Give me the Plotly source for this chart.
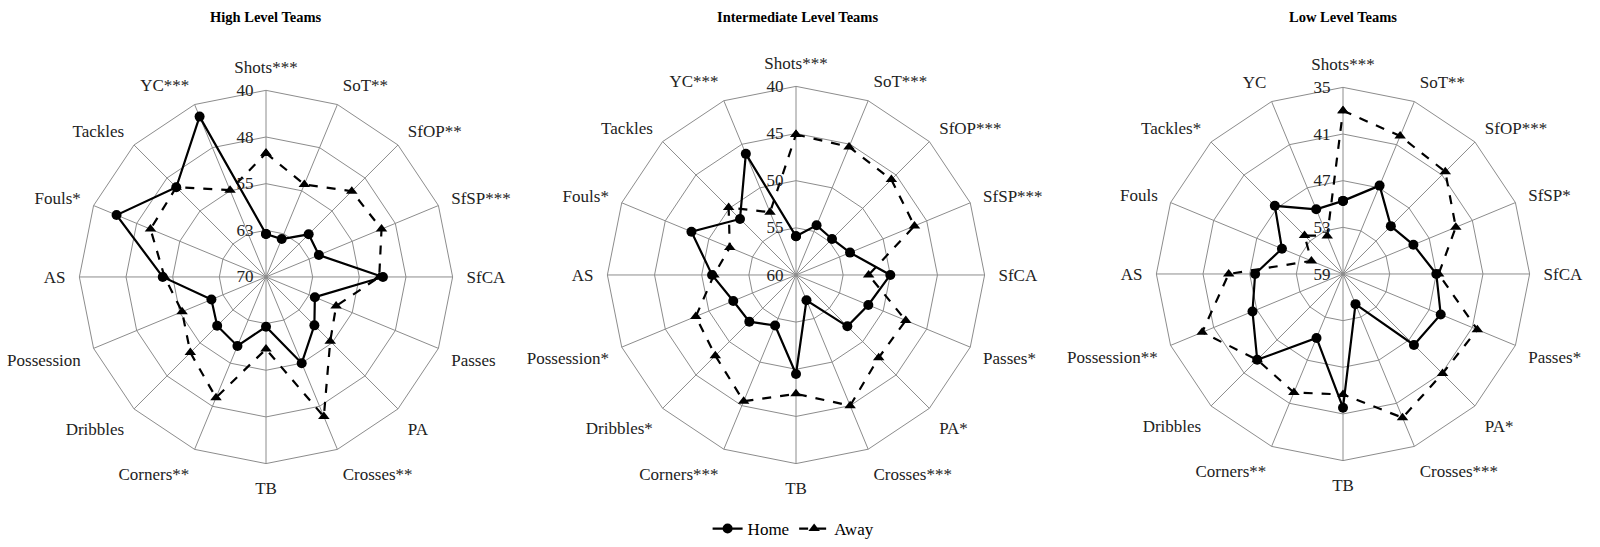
import plotly.graph_objects as go

categories = ["Shots***", "SoT**", "SfOP**", "SfSP***", "SfCA", "Passes", "PA", "Crosses**",
              "TB", "Corners**", "Dribbles", "Possession", "AS", "Fouls*", "Tackles", "YC***"]
cat_int = ["Shots***", "SoT***", "SfOP***", "SfSP***", "SfCA", "Passes*", "PA*", "Crosses***",
           "TB", "Corners***", "Dribbles*", "Possession*", "AS", "Fouls*", "Tackles", "YC***"]
cat_low = ["Shots***", "SoT**", "SfOP***", "SfSP*", "SfCA", "Passes*", "PA*", "Crosses***",
           "TB", "Corners**", "Dribbles", "Possession**", "AS", "Fouls", "Tackles*", "YC"]

high_home = [63.1, 63.4, 60.3, 60.8, 51.2, 61.5, 59.0, 55.0, 62.0, 58.0, 58.9, 60.5, 53.4, 44.0, 49.6, 42.1]
high_away = [50.1, 53.9, 50.5, 49.9, 51.8, 57.8, 55.4, 45.7, 58.4, 49.0, 52.8, 55.4, 53.7, 49.9, 49.6, 54.9]
int_home = [55.9, 54.3, 54.6, 53.8, 50.0, 51.7, 52.3, 57.1, 49.5, 54.2, 53.0, 52.8, 51.1, 48.0, 51.6, 46.1]
int_away = [45.1, 45.3, 45.7, 46.4, 52.3, 47.4, 47.6, 45.0, 47.4, 45.5, 47.9, 48.5, 51.3, 52.4, 49.9, 52.8]
low_home = [49.6, 46.7, 50.3, 49.2, 47.0, 45.4, 46.1, 54.8, 41.8, 50.1, 43.4, 46.4, 47.7, 50.5, 46.6, 50.0]
low_away = [38.0, 39.8, 40.4, 43.3, 46.7, 40.3, 40.9, 39.0, 43.5, 42.5, 43.4, 39.4, 44.3, 54.6, 52.0, 53.7]

high_ticks = [40, 47.5, 55, 62.5, 70]
high_ticktext = ["40", "48", "55", "63", "70"]
int_ticks = [40, 45, 50, 55, 60]
int_ticktext = ["40", "45", "50", "55", "60"]
low_ticks = [35, 41, 47, 53, 59]
low_ticktext = ["35", "41", "47", "53", "59"]

titles = ["High Level Teams", "Intermediate Level Teams", "Low Level Teams"]

W, H = 1600, 547
SERIF = "Liberation Serif"
GRID = "#8c8c8c"

panels = [
    (categories, high_home, high_away, high_ticks, high_ticktext, (266, 279, 188)),
    (cat_int, int_home, int_away, int_ticks, int_ticktext, (796, 277, 190)),
    (cat_low, low_home, low_away, low_ticks, low_ticktext, (1343, 276, 188)),
]

fig = go.Figure()
layout = {}
for i, (cats, home, away, tv, tt, (cx, cy, R)) in enumerate(panels):
    pid = "polar" if i == 0 else f"polar{i+1}"
    th = cats + [cats[0]]
    fig.add_trace(go.Scatterpolar(
        r=home + [home[0]], theta=th, subplot=pid, name="Home", mode="lines+markers",
        line=dict(color="black", width=2.2), marker=dict(symbol="circle", size=10, color="black"),
        showlegend=(i == 0), legendgroup="home"))
    fig.add_trace(go.Scatterpolar(
        r=away + [away[0]], theta=th, subplot=pid, name="Away", mode="lines+markers",
        line=dict(color="black", width=2.2, dash="dash"),
        marker=dict(symbol="triangle-up", size=10, color="black"),
        showlegend=(i == 0), legendgroup="away"))
    ybot = H - cy
    layout[pid] = dict(
        domain=dict(x=[(cx - R) / W, (cx + R) / W], y=[(ybot - R) / H, (ybot + R) / H]),
        gridshape="linear",
        bgcolor="white",
        radialaxis=dict(range=[tv[-1], tv[0]], tickvals=tv, ticktext=tt, angle=90, tickangle=90,
                        side="counterclockwise", showline=False, gridcolor=GRID, gridwidth=1,
                        ticks="outside", ticklen=6, tickcolor="rgba(0,0,0,0)",
                        tickfont=dict(family=SERIF, size=17, color="#222")),
        angularaxis=dict(direction="clockwise", rotation=90, categoryarray=cats,
                         categoryorder="array", gridcolor=GRID, linecolor=GRID, linewidth=1,
                         ticks="outside", ticklen=10, tickcolor="rgba(0,0,0,0)",
                         tickfont=dict(family=SERIF, size=17, color="#222")),
    )

annotations = []
for t, x in zip(titles, [266, 797, 1343]):
    annotations.append(dict(text=f"<b>{t}</b>", x=x / W, y=1 - 17 / H, xref="paper", yref="paper",
                            showarrow=False, font=dict(family=SERIF, size=14.5, color="black"),
                            xanchor="center", yanchor="middle"))

fig.update_layout(
    width=W, height=H, margin=dict(l=0, r=0, t=0, b=0),
    font=dict(family=SERIF, size=17, color="#222"),
    paper_bgcolor="white", plot_bgcolor="white",
    annotations=annotations,
    legend=dict(orientation="h", x=0.496, xanchor="center", y=1 - 533 / H, yanchor="middle",
                font=dict(family=SERIF, size=17, color="black"), bgcolor="rgba(0,0,0,0)"),
    **layout,
)

fig.write_html("out.html", config={"displayModeBar": False},
               post_script="document.body.style.margin='0px';")
